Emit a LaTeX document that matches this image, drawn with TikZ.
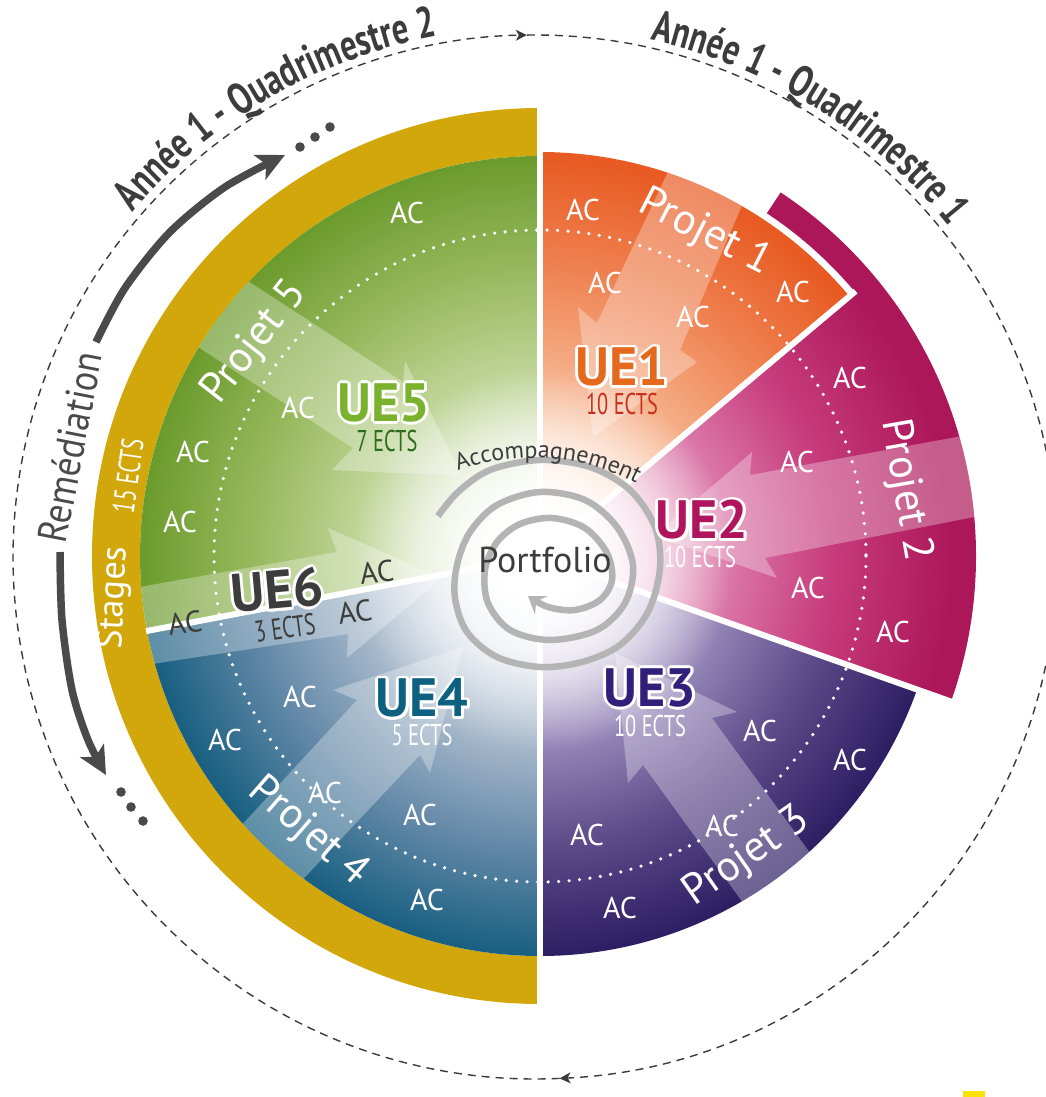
\documentclass[tikz,border=0pt]{standalone}
\usepackage{fontspec}
\setmainfont{PT Sans}
\newfontfamily\condf[FakeStretch=0.68]{PT Sans}
\newfontfamily\semif[FakeStretch=0.88]{PT Sans}
\newfontfamily\condbold[FakeStretch=0.74]{PT Sans Bold}
\usetikzlibrary{arrows.meta,decorations.text,fadings,calc}

\definecolor{yel}{HTML}{D1A70B}
\definecolor{txtgray}{HTML}{3C3C3C}
\definecolor{arcgray}{HTML}{4A4A4A}
\definecolor{spgray}{HTML}{B4B4B4}
\definecolor{dashgray}{HTML}{3A3A3A}
\definecolor{oa1}{HTML}{FCE0CF}\definecolor{oa2}{HTML}{F5AC85}\definecolor{oa3}{HTML}{EF8150}\definecolor{oa4}{HTML}{E85A22}
\definecolor{ma1}{HTML}{F3CEDF}\definecolor{ma2}{HTML}{DA76A7}\definecolor{ma3}{HTML}{C73C7C}\definecolor{ma4}{HTML}{AC1759}
\definecolor{pa1}{HTML}{D8D2E6}\definecolor{pa2}{HTML}{9384B6}\definecolor{pa3}{HTML}{5C4A89}\definecolor{pa4}{HTML}{2D1E63}
\definecolor{ba1}{HTML}{DFE5EC}\definecolor{ba2}{HTML}{A5B7CA}\definecolor{ba3}{HTML}{6489A8}\definecolor{ba4}{HTML}{185F81}
\definecolor{ga1}{HTML}{E6EED7}\definecolor{ga2}{HTML}{BDD394}\definecolor{ga3}{HTML}{96B85C}\definecolor{ga4}{HTML}{6B9B2D}
\definecolor{ueone}{HTML}{E4691C}\definecolor{ectsone}{HTML}{C8321D}
\definecolor{uetwo}{HTML}{B0145C}
\definecolor{uethree}{HTML}{30207A}
\definecolor{uefour}{HTML}{0E6080}
\definecolor{uefive}{HTML}{7AB22D}\definecolor{ectsfive}{HTML}{2E6B1D}

\pgfdeclareradialshading{shone}{\pgfpoint{0bp}{0bp}}{color(0bp)=(white); color(2.6bp)=(white); color(6.25bp)=(oa1); color(10.8bp)=(oa2); color(16.5bp)=(oa3); color(22.7bp)=(oa4); color(50bp)=(oa4)}
\pgfdeclareradialshading{shtwo}{\pgfpoint{0bp}{0bp}}{color(0bp)=(white); color(2.6bp)=(white); color(6.25bp)=(ma1); color(10.8bp)=(ma2); color(16.5bp)=(ma3); color(23.5bp)=(ma4); color(50bp)=(ma4)}
\pgfdeclareradialshading{shthree}{\pgfpoint{0bp}{0bp}}{color(0bp)=(white); color(2.6bp)=(white); color(6.25bp)=(pa1); color(10.8bp)=(pa2); color(16.5bp)=(pa3); color(22.7bp)=(pa4); color(50bp)=(pa4)}
\pgfdeclareradialshading{shfour}{\pgfpoint{0bp}{0bp}}{color(0bp)=(white); color(2.6bp)=(white); color(6.25bp)=(ba1); color(10.8bp)=(ba2); color(16.5bp)=(ba3); color(22.7bp)=(ba4); color(50bp)=(ba4)}
\pgfdeclareradialshading{shfive}{\pgfpoint{0bp}{0bp}}{color(0bp)=(white); color(2.6bp)=(white); color(6.25bp)=(ga1); color(10.8bp)=(ga2); color(16.5bp)=(ga3); color(22.7bp)=(ga4); color(50bp)=(ga4)}

\tikzfading[name=glowfade, inner color=transparent!0, outer color=transparent!100]

\newcommand\titlef{\condbold\fontsize{44}{44}\selectfont}
\newcommand\uelabel[5]{%
  \foreach \hh in {0,30,...,330}{\node[uef, text=white, rotate=#4] (#1h\hh) at ($#2+(\hh:2.7)$) {#5};}
  \node[uef, text=#3, rotate=#4] (#1) at #2 {#5};}

\begin{document}
\begin{tikzpicture}[x=1pt,y=-1pt,
  ac/.style={text=white, font=\fontsize{30}{30}\selectfont, inner sep=0pt},
  acd/.style={ac, text=txtgray},
  proj/.style={text=white, font=\fontsize{43}{43}\selectfont, inner sep=0pt},
  uef/.style={font=\bfseries\fontsize{54}{54}\selectfont, inner sep=0pt},
  ects/.style={font=\condf\fontsize{30}{30}\selectfont, inner sep=0pt},
  sep/.style={draw=white, line width=6pt},
  arrowov/.style={fill=white, fill opacity=0.3},
  dashc/.style={draw=dashgray, line width=1.4pt, dash pattern=on 8pt off 6pt},
  thickarc/.style={draw=arcgray, line width=7.5pt},
  dotdot/.style={fill=arcgray},
]
\useasboundingbox (0,0) rectangle (1046,1097);
\clip (0,0) rectangle (1046,1097);
\coordinate (C) at (540,556);
\coordinate (D) at (535,557);
\coordinate (A0) at (533,680);

% Stages band
\fill[yel] ($(C)+(-90:448)$) arc[start angle=-90,end angle=-270,radius=448] -- ($(C)+(-270:400)$) arc[start angle=-270,end angle=-90,radius=400] -- cycle;

% UE1
\begin{scope}
\clip (C) -- ($(C)+(-40:404)$) arc[start angle=-40, end angle=-90, radius=404] -- cycle;
\shade[shading=shone] (C) circle[radius=440];
\fill[arrowov] (680,146) -- (597,323) -- (578,307) -- (593,437) -- (697,362) -- (680,350) -- (755,175) -- cycle;
\end{scope}
% UE2
\begin{scope}
\clip (C) -- ($(C)+(19.5:436)$) arc[start angle=19.5, end angle=-56.5, radius=436] -- ($(C)+(-56.5:411)$) arc[start angle=-56.5, end angle=-40, radius=411] -- cycle;
\shade[shading=shtwo] (C) circle[radius=440];
\fill[arrowov] (1000,429) -- (750,475) -- (752,452) -- (654,536) -- (777,578) -- (765,558) -- (1010,510) -- cycle;
\end{scope}
% UE3
\begin{scope}
\clip (C) -- ($(C)+(90:400)$) arc[start angle=90, end angle=19.5, radius=400] -- cycle;
\shade[shading=shthree] (C) circle[radius=440];
\fill[arrowov] (770,940) -- (643,765) -- (628,783) -- (615,653) -- (737,712) -- (712,718) -- (837,890) -- cycle;
\end{scope}
% UE4
\begin{scope}
\clip (C) -- ($(C)+(169.2:400)$) arc[start angle=169.2, end angle=90, radius=400] -- cycle;
\shade[shading=shfour] (C) circle[radius=440];
\fill[arrowov] (215,854) -- (357,700) -- (333,690) -- (463,647) -- (430,773) -- (420,755) -- (277,907) -- cycle;
\end{scope}
% UE5
\begin{scope}
\clip (C) -- ($(C)+(-90:400)$) arc[start angle=-90, end angle=-190.8, radius=400] -- cycle;
\shade[shading=shfive] (C) circle[radius=440];
\fill[arrowov] (205,253) -- (403,382) -- (405,361) -- (462,476) -- (332,470) -- (353,448) -- (155,319) -- cycle;
\end{scope}
% UE6 arrow across the left half
\begin{scope}
\clip (C) -- ($(C)+(-90:400)$) arc[start angle=-90, end angle=-270, radius=400] -- cycle;
\fill[arrowov] (100,594) -- (337,552) -- (328,528) -- (442,578) -- (347,658) -- (348,634) -- (100,672) -- cycle;
\end{scope}

% separators
\draw[sep] ($(C)+(0,-452)$) -- ($(C)+(0,452)$);
\draw[sep] (C) -- ($(C)+(-40:412)$);
\draw[sep] (C) -- ($(C)+(19.5:439)$);
\draw[sep] (C) -- ($(C)+(169.2:401)$);

% dotted circle
\draw[white, line width=3.6pt, dash pattern=on 0pt off 10.5pt, line cap=round] (C) circle[radius=326];

% central glow
\fill[white, path fading=glowfade] (543,562) circle[radius=190];

% spiral
\draw[spgray, line width=6.5pt, -{Stealth[length=16pt,width=22pt,inset=6pt]}] plot[smooth, tension=0.55] coordinates {
(438,516) (458,492) (490,470) (540,460) (590,467) (630,490) (655,527) (660,568) (648,612) (620,645) (582,662) (540,667) (497,657) (467,632) (455,598) (457,565) (470,532) (497,505) (540,492) (585,500) (617,527) (633,565) (625,603) (597,630) (550,640) (510,630) (488,603) (485,570) (497,542) (520,524) (552,518) (585,528) (607,553) (612,580) (600,600) (575,610) (548,607) (528,596)};

\path[decorate, decoration={text along path, text align=center, text color=txtgray, text={|\fontsize{24}{24}\selectfont|Accompagnement}}] ($(A0)+(-114:222)$) arc[start angle=-114, end angle=-58, radius=222];
\node[text=txtgray, font=\fontsize{36}{36}\selectfont, inner sep=0pt] (portfolio) at (545,560) {Portfolio};

% AC labels
\node[ac] (ac1a) at (583,210) {AC};
\node[ac] (ac1b) at (605,283) {AC};
\node[ac] (ac1c) at (693,317) {AC};
\node[ac] (ac1d) at (793,292) {AC};
\node[ac] (ac2a) at (850,378) {AC};
\node[ac] (ac2b) at (797,462) {AC};
\node[ac] (ac2c) at (808,588) {AC};
\node[ac] (ac2d) at (893,632) {AC};
\node[ac] (ac3a) at (760,731) {AC};
\node[ac] (ac3b) at (850,760) {AC};
\node[ac] (ac3c) at (587,835) {AC};
\node[ac] (ac3d) at (722,826) {AC};
\node[ac] (ac3e) at (620,908) {AC};
\node[ac] (ac4a) at (300,697) {AC};
\node[ac] (ac4b) at (225,740) {AC};
\node[ac] (ac4c) at (325,793) {AC};
\node[ac] (ac4d) at (420,815) {AC};
\node[ac] (ac4e) at (427,900) {AC};
\node[ac] (ac5a) at (407,213) {AC};
\node[ac] (ac5b) at (298,408) {AC};
\node[ac] (ac5c) at (193,452) {AC};
\node[ac] (ac5d) at (180,522) {AC};
\node[acd, rotate=6] (ac6a) at (377,572) {AC};
\node[acd, rotate=8] (ac6b) at (355,612) {AC};
\node[acd, rotate=8] (ac6c) at (185,623) {AC};

% Projet labels
\node[proj, rotate=-27] (p1) at (705,233) {Projet 1};
\node[proj, rotate=-80] (p2) at (905,490) {Projet 2};
\node[proj, rotate=35] (p3) at (747,857) {Projet 3};
\node[proj, rotate=-41] (p4) at (308,832) {Projet 4};
\node[proj, rotate=52] (p5) at (255,343) {Projet 5};

% UE labels
\uelabel{ue1}{(622,367)}{ueone}{0}{UE1}
\node[ects, text=ectsone] (e1) at (622,404) {10 ECTS};
\uelabel{ue2}{(702,520)}{uetwo}{0}{UE2}
\node[ects, text=white] (e2) at (700,557) {10 ECTS};
\uelabel{ue3}{(650,688)}{uethree}{0}{UE3}
\node[ects, text=white] (e3) at (650,726) {10 ECTS};
\uelabel{ue4}{(422,698)}{uefour}{0}{UE4}
\node[ects, text=white] (e4) at (422,735) {5 ECTS};
\uelabel{ue5}{(384,403)}{uefive}{0}{UE5}
\node[ects, text=ectsfive] (e5) at (387,441) {7 ECTS};
\uelabel{ue6}{(277,590)}{txtgray}{5}{UE6}
\node[ects, text=txtgray, rotate=8] (e6) at (285,628) {3 ECTS};

% outer dashed cycle
\draw[dashc, -{Stealth[length=11pt,width=11pt,inset=3pt]}] ($(D)+(-272.7:522)$) arc[start angle=-272.7, end angle=-90.9, radius=522];
\draw[dashc, -{Stealth[length=11pt,width=11pt,inset=3pt]}] ($(D)+(-90.9:522)$) arc[start angle=-90.9, end angle=87.3, radius=522];

\path[decorate, decoration={text along path, text align=center, text color=txtgray, text={|\titlef|Année 1 - Quadrimestre 2}}] ($(D)+(-144:530)$) arc[start angle=-144, end angle=-96, radius=530];
\path[decorate, decoration={text along path, text align=center, text color=txtgray, text={|\titlef|Année 1 - Quadrimestre 1}}] ($(D)+(-82:530)$) arc[start angle=-82, end angle=-34, radius=530];

% remediation arcs
\draw[thickarc, -{Stealth[length=28pt,width=27pt,inset=7pt]}] plot[smooth] coordinates {(96,342) (125,288) (170,232) (225,187) (285,155)};
\draw[thickarc, -{Stealth[length=28pt,width=27pt,inset=7pt]}] plot[smooth] coordinates {(60,552) (62,620) (72,690) (88,740) (106,775)};
\fill[dotdot] (300,147) circle[radius=4.8] (315,137) circle[radius=4.8] (330,127) circle[radius=4.8];
\fill[dotdot] (121,792) circle[radius=4.8] (131,807) circle[radius=4.8] (143,821) circle[radius=4.8];
\node[text=arcgray, font=\semif\fontsize{41}{41}\selectfont, inner sep=0pt, rotate=79] (remed) at (70,447) {Remédiation};
\node[text=white, font=\fontsize{36}{36}\selectfont, inner sep=0pt, rotate=87] (stages) at (115,598) {Stages};
\node[text=white, font=\condf\fontsize{31}{31}\selectfont, inner sep=0pt, rotate=82] (ects6) at (128,476) {15 ECTS};

\fill[yellow!85!orange] (963,1091) rectangle (985,1097);
\end{tikzpicture}
\end{document}
